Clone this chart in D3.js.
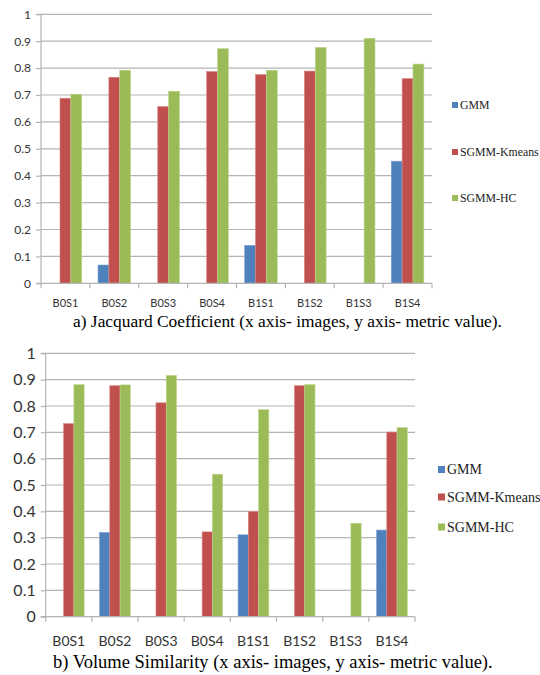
<!DOCTYPE html>
<html>
<head>
<meta charset="utf-8">
<script src="https://cdn.jsdelivr.net/npm/d3@7"></script>
<style>
  html, body { margin: 0; padding: 0; background: #ffffff; }
  svg { display: block; }
</style>
</head>
<body>
<svg id="chart" width="540" height="675"></svg>
<script>
// ---------------- DATA ----------------
const categories = ["B0S1", "B0S2", "B0S3", "B0S4", "B1S1", "B1S2", "B1S3", "B1S4"];
const seriesNames = ["GMM", "SGMM-Kmeans", "SGMM-HC"];

// a) Jacquard Coefficient
const jaccardGMM    = [0,     0.068, 0,     0,     0.141, 0,     0,     0.454];
const jaccardKmeans = [0.688, 0.766, 0.657, 0.787, 0.776, 0.789, 0,     0.761];
const jaccardHC     = [0.703, 0.792, 0.714, 0.872, 0.792, 0.877, 0.911, 0.815];

// b) Volume Similarity
const volumeGMM     = [0,     0.320, 0,     0,     0.311, 0,     0,     0.329];
const volumeKmeans  = [0.733, 0.877, 0.812, 0.322, 0.399, 0.877, 0,     0.701];
const volumeHC      = [0.881, 0.880, 0.916, 0.541, 0.786, 0.881, 0.355, 0.718];

const yTicks = [0, 0.1, 0.2, 0.3, 0.4, 0.5, 0.6, 0.7, 0.8, 0.9, 1];
const yTickLabels = ["0", "0.1", "0.2", "0.3", "0.4", "0.5", "0.6", "0.7", "0.8", "0.9", "1"];

const captionA = "a) Jacquard Coefficient (x axis- images, y axis- metric value).";
const captionB = "b) Volume Similarity (x axis- images, y axis- metric value).";

// ---------------- STYLE ----------------
const colors = ["#4F81BD", "#C0504D", "#9BBB59"];
const edgeColors = ["#7FA3D3", "#D98683", "#BCD68C"];
const gridColor = "#B4B4B4";

const svg = d3.select("#chart");

function drawChart(cfg) {
  const g = svg.append("g");
  const x = d3.scaleBand().domain(categories).range([cfg.left, cfg.right]).paddingInner(0).paddingOuter(0);
  const xs = d3.scaleBand().domain(seriesNames).range([0, x.bandwidth()]).paddingInner(0).paddingOuter(0.75);
  const y = d3.scaleLinear().domain([0, 1]).range([cfg.bottom, cfg.top]);

  // gridlines
  g.append("g").selectAll("line").data(yTicks.filter(d => d > 0)).join("line")
    .attr("x1", cfg.left).attr("x2", cfg.right)
    .attr("y1", d => y(d)).attr("y2", d => y(d))
    .attr("stroke", gridColor).attr("stroke-width", 1.2);

  // y axis
  const yAxis = d3.axisLeft(y).tickValues(yTicks).tickSize(5)
    .tickFormat((d, i) => yTickLabels[i]).tickPadding(5);
  const ya = g.append("g").attr("transform", `translate(${cfg.left},0)`).call(yAxis);
  ya.select(".domain").attr("stroke", gridColor).attr("stroke-width", 1.2)
    .attr("d", `M-5,${cfg.bottom}H0V${cfg.top}H-5`);
  ya.selectAll(".tick line").attr("stroke", gridColor).attr("stroke-width", 1.2);
  ya.selectAll(".tick text").attr("font-family", "Lato, sans-serif")
    .attr("font-size", cfg.yFont).attr("fill", "#333");

  // bars
  const data = [];
  cfg.series.forEach((vals, si) => {
    vals.forEach((v, ci) => data.push({ cat: categories[ci], s: seriesNames[si], si, v }));
  });
  g.append("g").selectAll("rect").data(data.filter(d => d.v > 0)).join("rect")
    .attr("x", d => x(d.cat) + xs(d.s))
    .attr("width", xs.bandwidth())
    .attr("y", d => y(d.v))
    .attr("height", d => y(0) - y(d.v))
    .attr("fill", d => colors[d.si])
    .attr("stroke", d => edgeColors[d.si])
    .attr("stroke-width", 0.6);

  // x axis
  const xa = g.append("g").attr("transform", `translate(0,${cfg.bottom})`);
  xa.append("line").attr("x1", cfg.left).attr("x2", cfg.right)
    .attr("stroke", gridColor).attr("stroke-width", 1.2);
  const boundaries = categories.map(c => x(c)).concat([cfg.right]);
  xa.selectAll("line.tk").data(boundaries).join("line").attr("class", "tk")
    .attr("x1", d => d).attr("x2", d => d).attr("y1", 0).attr("y2", 5)
    .attr("stroke", gridColor).attr("stroke-width", 1.2);
  xa.selectAll("text").data(categories).join("text")
    .attr("x", d => x(d) + x.bandwidth() / 2)
    .attr("y", cfg.xLabelY - cfg.bottom)
    .attr("text-anchor", "middle")
    .attr("font-family", "Lato, sans-serif")
    .attr("font-size", cfg.xFont).attr("fill", "#333")
    .text(d => d);

  // legend
  const lg = g.append("g");
  seriesNames.forEach((s, i) => {
    const ly = cfg.legendY[i];
    lg.append("rect").attr("x", cfg.legendX).attr("y", ly - cfg.sq / 2)
      .attr("width", cfg.sq).attr("height", cfg.sq).attr("fill", colors[i]);
    lg.append("text").attr("x", cfg.legendX + cfg.sq + 2).attr("y", ly)
      .attr("dy", "0.35em")
      .attr("font-family", "'Liberation Serif', 'Times New Roman', serif")
      .attr("font-size", cfg.legendFont).attr("fill", "#222")
      .text(s);
  });

  // caption
  g.append("text").attr("x", cfg.capX).attr("y", cfg.capY)
    .attr("font-family", "'Liberation Serif', 'Times New Roman', serif")
    .attr("font-size", cfg.capFont).attr("fill", "#000")
    .text(cfg.caption);
}

drawChart({
  left: 41, right: 432, top: 14.3, bottom: 283.3,
  yFont: 12, xFont: 11, xLabelY: 307,
  series: [jaccardGMM, jaccardKmeans, jaccardHC],
  legendX: 452, legendY: [105, 152, 198], legendFont: 11.8, sq: 6,
  caption: captionA, capX: 73, capY: 327, capFont: 17.4
});

drawChart({
  left: 45.7, right: 415, top: 353.3, bottom: 616.7,
  yFont: 16, xFont: 14, xLabelY: 646,
  series: [volumeGMM, volumeKmeans, volumeHC],
  legendX: 438, legendY: [469.5, 497, 527], legendFont: 14, sq: 7,
  caption: captionB, capX: 53, capY: 668, capFont: 18.5
});
</script>
</body>
</html>
